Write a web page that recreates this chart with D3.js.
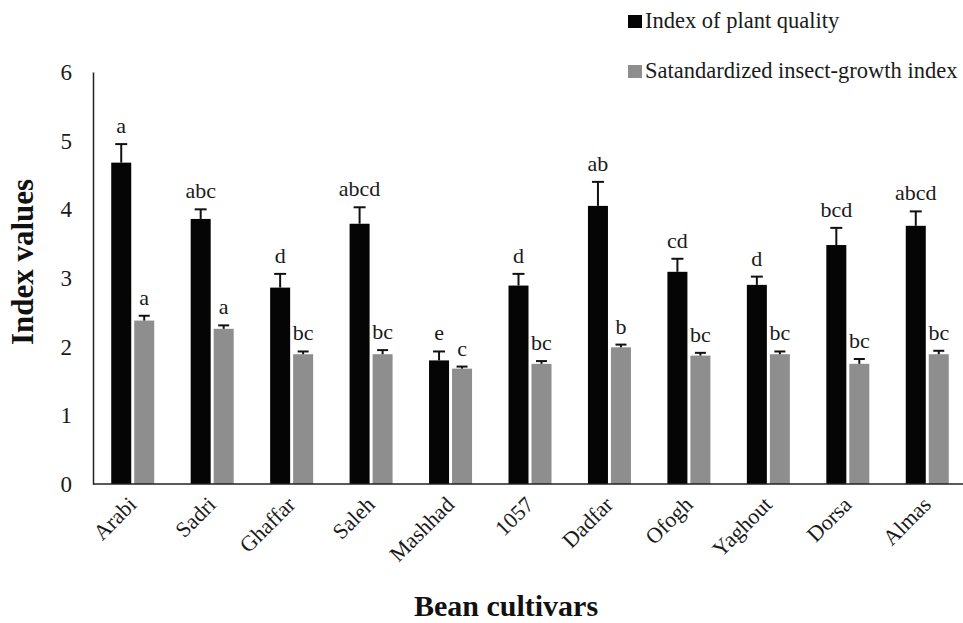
<!DOCTYPE html>
<html>
<head>
<meta charset="utf-8">
<script src="https://cdn.jsdelivr.net/npm/d3@7/dist/d3.min.js"></script>
<style>
  body { margin: 0; background: #fff; }
  svg { display: block; font-family: "Liberation Serif", "Times New Roman", serif; }
</style>
</head>
<body>
<svg id="chart" width="963" height="623"></svg>
<script>
var cultivars = ['Arabi', 'Sadri', 'Ghaffar', 'Saleh', 'Mashhad', '1057', 'Dadfar', 'Ofogh', 'Yaghout', 'Dorsa', 'Almas'];
var seriesNames = ['Index of plant quality', 'Satandardized insect-growth index'];

// index of plant quality: means, standard errors, letters
var plantQuality = [4.68, 3.86, 2.86, 3.79, 1.80, 2.89, 4.05, 3.09, 2.90, 3.48, 3.76];
var plantQualityErr = [0.27, 0.14, 0.20, 0.24, 0.13, 0.17, 0.35, 0.19, 0.12, 0.25, 0.21];
var plantQualityLetters = ['a', 'abc', 'd', 'abcd', 'e', 'd', 'ab', 'cd', 'd', 'bcd', 'abcd'];

// standardized insect-growth index
var insectGrowth = [2.38, 2.26, 1.89, 1.89, 1.68, 1.75, 1.99, 1.87, 1.89, 1.75, 1.89];
var insectGrowthErr = [0.07, 0.05, 0.04, 0.06, 0.03, 0.04, 0.04, 0.04, 0.04, 0.07, 0.05];
var insectGrowthLetters = ['a', 'a', 'bc', 'bc', 'c', 'bc', 'b', 'bc', 'bc', 'bc', 'bc'];

var yTicks = [0, 1, 2, 3, 4, 5, 6];
var colors = ['#050505', '#8e8e8e'];

(function () {
    var svg = d3.select('#chart');
    var left = 93, right = 967, top = 72, bottom = 484;

    var rows = [];
    cultivars.forEach(function (c, i) {
        rows.push({ cat: c, s: 0, v: plantQuality[i], e: plantQualityErr[i], l: plantQualityLetters[i] });
        rows.push({ cat: c, s: 1, v: insectGrowth[i], e: insectGrowthErr[i], l: insectGrowthLetters[i] });
    });

    var x = d3.scaleBand().domain(cultivars).range([left, right]);
    var xi = d3.scaleBand().domain([0, 1]).range([-21.5, 21.5]).paddingInner(0.13);
    var y = d3.scaleLinear().domain([0, 6]).range([bottom, top]);

    function barCenter(d) {
        return x(d.cat) + x.bandwidth() / 2 + xi(d.s) + xi.bandwidth() / 2;
    }

    // bars
    svg.append('g').selectAll('rect')
        .data(rows)
        .enter()
        .append('rect')
        .attr('x', function (d) { return x(d.cat) + x.bandwidth() / 2 + xi(d.s); })
        .attr('width', xi.bandwidth())
        .attr('y', function (d) { return y(d.v); })
        .attr('height', function (d) { return y(0) - y(d.v); })
        .attr('fill', function (d) { return colors[d.s]; });

    // error bars
    var eg = svg.append('g').attr('stroke', '#111').attr('stroke-width', 2);
    rows.forEach(function (d) {
        var cx = barCenter(d);
        var cap = d.s === 0 ? 6 : 5.5;
        eg.append('line')
            .attr('x1', cx).attr('x2', cx)
            .attr('y1', y(d.v)).attr('y2', y(d.v + d.e));
        eg.append('line')
            .attr('x1', cx - cap).attr('x2', cx + cap)
            .attr('y1', y(d.v + d.e)).attr('y2', y(d.v + d.e));
    });

    // significance letters
    svg.append('g').selectAll('text')
        .data(rows)
        .enter()
        .append('text')
        .attr('x', barCenter)
        .attr('y', function (d) { return y(d.v + d.e) - 11; })
        .attr('text-anchor', 'middle')
        .attr('font-size', '22px')
        .attr('fill', '#1a1a1a')
        .text(function (d) { return d.l; });

    // y axis
    var yAxis = svg.append('g')
        .attr('transform', 'translate(' + left + ',0)')
        .call(d3.axisLeft(y).tickValues(yTicks).tickSize(0).tickPadding(21).tickFormat(d3.format('d')));
    yAxis.select('.domain').attr('stroke', '#222').attr('stroke-width', 1.5);
    yAxis.selectAll('text')
        .attr('font-family', '"Liberation Serif", serif')
        .attr('font-size', '23px')
        .attr('fill', '#1a1a1a');

    // x axis line + labels
    svg.append('line')
        .attr('x1', left).attr('x2', 963)
        .attr('y1', y(0)).attr('y2', y(0))
        .attr('stroke', '#222').attr('stroke-width', 1.5);

    svg.append('g').selectAll('text')
        .data(cultivars)
        .enter()
        .append('text')
        .attr('transform', function (d) {
            return 'translate(' + (x(d) + x.bandwidth() / 2 + 5) + ',' + 506 + ') rotate(-45)';
        })
        .attr('text-anchor', 'end')
        .attr('font-size', '22px')
        .attr('fill', '#1a1a1a')
        .text(function (d) { return d; });

    // axis titles
    svg.append('text')
        .attr('transform', 'translate(33,262) rotate(-90)')
        .attr('text-anchor', 'middle')
        .attr('font-size', '31px')
        .attr('font-weight', 'bold')
        .attr('fill', '#111')
        .text('Index values');

    svg.append('text')
        .attr('x', 506)
        .attr('y', 616)
        .attr('text-anchor', 'middle')
        .attr('font-size', '30px')
        .attr('font-weight', 'bold')
        .attr('fill', '#111')
        .text('Bean cultivars');

    // legend
    var lg = svg.append('g').attr('transform', 'translate(628,0)');
    seriesNames.forEach(function (name, i) {
        lg.append('rect')
            .attr('x', 0).attr('y', 15 + i * 50)
            .attr('width', 14).attr('height', 13)
            .attr('fill', colors[i]);
        lg.append('text')
            .attr('x', 17).attr('y', 28 + i * 50)
            .attr('font-size', '22.5px')
            .attr('fill', '#1a1a1a')
            .text(name);
    });
})();
</script>
</body>
</html>
